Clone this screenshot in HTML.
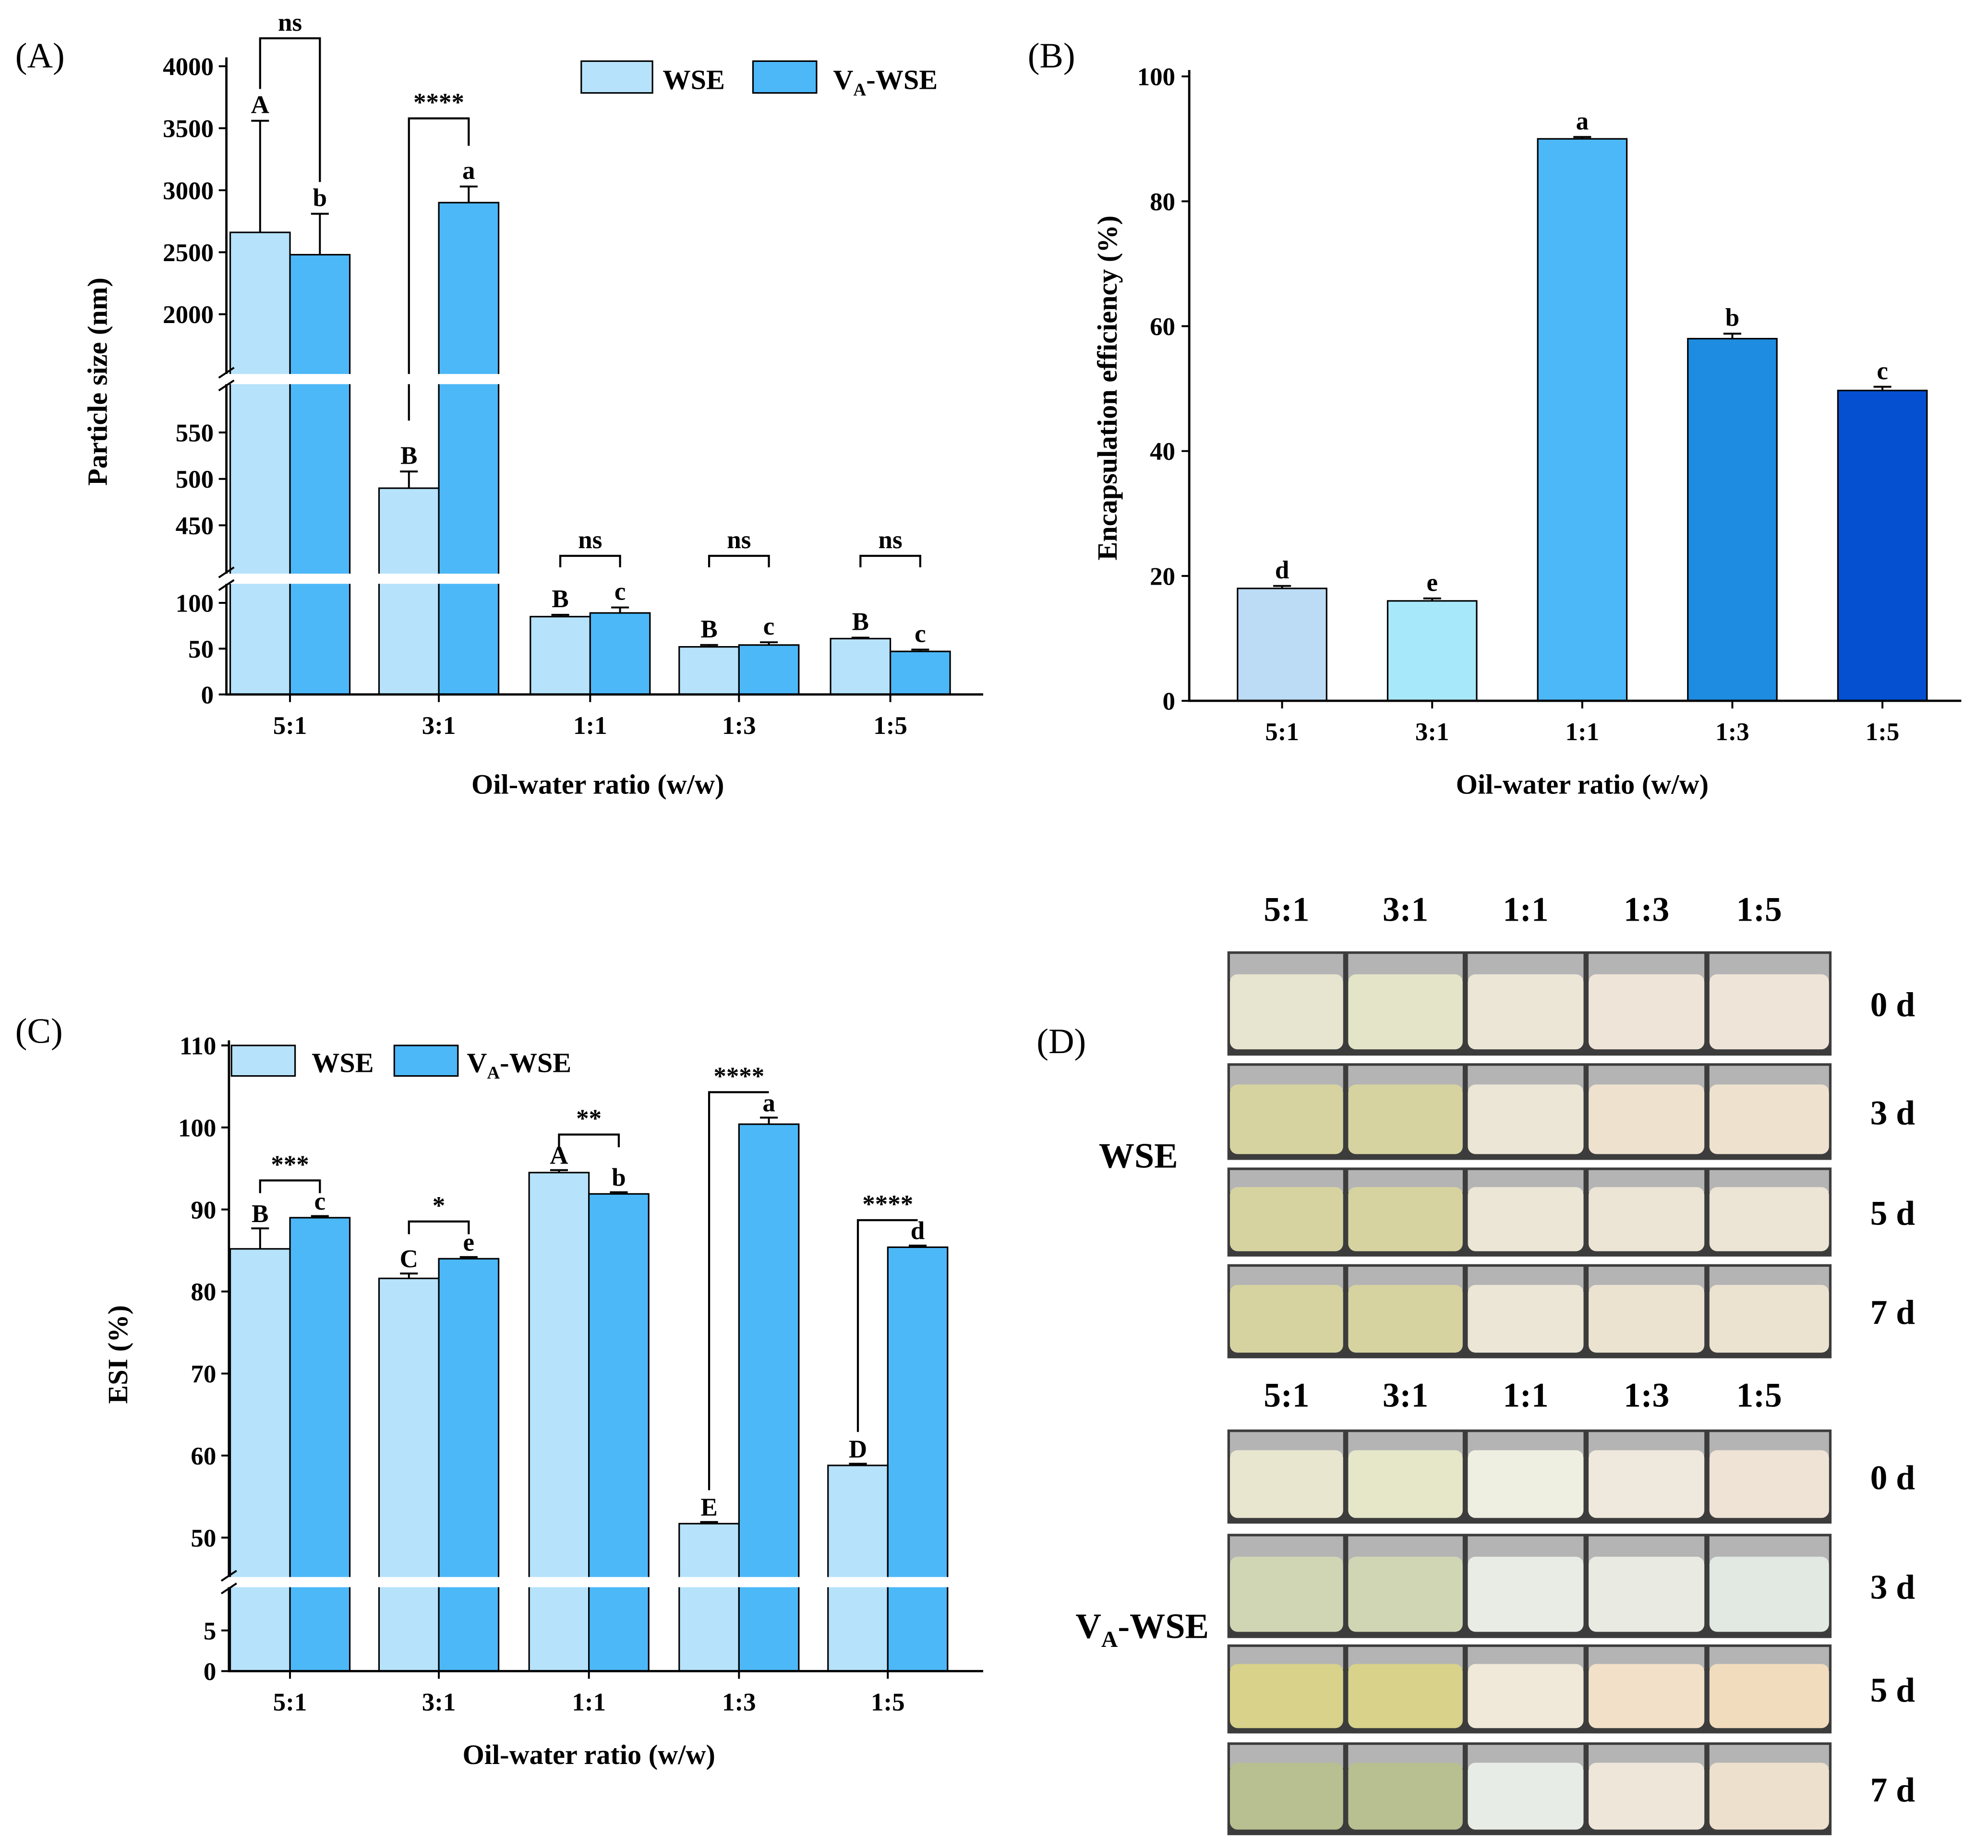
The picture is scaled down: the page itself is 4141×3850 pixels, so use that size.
<!DOCTYPE html>
<html><head><meta charset="utf-8">
<style>
html,body{margin:0;padding:0;background:#fff;}
svg{display:block;}
text{font-family:"Liberation Serif",serif;font-weight:bold;fill:#000;}
</style></head>
<body>
<svg id="fig" xmlns="http://www.w3.org/2000/svg" width="4141" height="3850" viewBox="0 0 1563 1453">
<g id="pA"></g>
<g id="pB"></g>
<g id="pC"></g>
<g id="pD"></g>
</svg>
<script>
const categories = ["5:1","3:1","1:1","1:3","1:5"];
const sizeWSE = [2660, 490, 85, 52, 61];
const sizeWSEErr = [900, 18, 2, 2, 1];
const sizeVA = [2480, 2900, 89, 54, 47];
const sizeVAErr = [330, 130, 6, 3, 2];
const sizeLettersWSE = ["A","B","B","B","B"];
const sizeLettersVA = ["b","a","c","c","c"];
const sizeSig = ["ns","****","ns","ns","ns"];
const sizeTicks = [0,50,100,450,500,550,2000,2500,3000,3500,4000];

const eeValues = [18, 16, 90, 58, 49.7];
const eeErr = [0.4, 0.4, 0.3, 0.8, 0.6];
const eeLetters = ["d","e","a","b","c"];
const eeTicks = [0,20,40,60,80,100];

const esiWSE = [85.2, 81.6, 94.5, 51.7, 58.8];
const esiWSEErr = [2.5, 0.6, 0.3, 0.2, 0.2];
const esiVA = [89, 84, 91.9, 100.4, 85.4];
const esiVAErr = [0.2, 0.2, 0.2, 0.8, 0.2];
const esiLettersWSE = ["B","C","A","E","D"];
const esiLettersVA = ["c","e","b","a","d"];
const esiSig = ["***","*","**","****","****"];
const esiTicks = [0,5,50,60,70,80,90,100,110];

const NS="http://www.w3.org/2000/svg";
function mk(parent, tag, attrs, txt){
  const e=document.createElementNS(NS,tag);
  for(const k in attrs) e.setAttribute(k, attrs[k]);
  if(txt!==undefined) e.textContent=txt;
  parent.appendChild(e); return e;
}
const C1="#b6e2fb", C2="#4cb8f8";
function errbar(g,x,yb,yt){
  mk(g,'path',{d:`M${x},${yb}V${yt}M${x-7},${yt}H${x+7}`,stroke:'#000','stroke-width':1.5,fill:'none'});
}

// ---------- Panel A ----------
const A=document.getElementById('pA');
function yA(v){ if(v<=126) return 546-v*0.72; if(v<=607) return 413-(v-450)*0.73; return 247-(v-2000)*0.0975; }
const cxA=[228,345,464,581,700], bw=47;
let t=mk(A,'text',{x:12,y:53,'font-size':28,style:'font-weight:normal'},'(A)');


categories.forEach((c,i)=>{
  const x=cxA[i];
  let r=mk(A,'rect',{x:x-bw,y:yA(sizeWSE[i]),width:bw,height:546-yA(sizeWSE[i]),fill:C1,stroke:'#000','stroke-width':1.2});
  
  
  r=mk(A,'rect',{x:x,y:yA(sizeVA[i]),width:bw,height:546-yA(sizeVA[i]),fill:C2,stroke:'#000','stroke-width':1.2});
  
  
  const xw=x-bw/2, xv=x+bw/2;
  const tw=yA(sizeWSE[i]+sizeWSEErr[i]), tv=yA(sizeVA[i]+sizeVAErr[i]);
  errbar(A,xw,yA(sizeWSE[i]),tw);
  errbar(A,xv,yA(sizeVA[i]),tv);
  mk(A,'text',{x:xw,y:tw-6,'font-size':20,'text-anchor':'middle'},sizeLettersWSE[i]);
  mk(A,'text',{x:xv,y:tv-6,'font-size':20,'text-anchor':'middle'},sizeLettersVA[i]);
  mk(A,'text',{x:x,y:577,'font-size':20,'text-anchor':'middle'},c);
});
function bracket(g,x1,x2,yt,y1,y2,label){
  mk(g,'path',{d:`M${x1},${y1}V${yt}H${x2}V${y2}`,stroke:'#000','stroke-width':1.6,fill:'none'});
  const s=mk(g,'text',{x:(x1+x2)/2,y:yt-6,'font-size':20,'text-anchor':'middle'},label);
  
  
}
categories.forEach((c,i)=>{
  const x1=cxA[i]-bw/2, x2=cxA[i]+bw/2;
  if(i===0) bracket(A,x1,x2,30,yA(sizeWSE[i]+sizeWSEErr[i])-25,yA(sizeVA[i]+sizeVAErr[i])-25,sizeSig[i]);
  else if(i===1) bracket(A,x1,x2,93,yA(sizeWSE[i]+sizeWSEErr[i])-40,yA(sizeVA[i]+sizeVAErr[i])-32,sizeSig[i]);
  else bracket(A,x1,x2,437,446,446,sizeSig[i]);
});
mk(A,'path',{d:'M178,45V546H773',stroke:'#000','stroke-width':1.8,fill:'none'});
sizeTicks.forEach(v=>{
  const y=yA(v);
  mk(A,'line',{x1:172,x2:178,y1:y,y2:y,stroke:'#000','stroke-width':1.5});
  const tt=mk(A,'text',{x:168,y:y+7,'font-size':20,'text-anchor':'end'},v);
  
  
});
categories.forEach((c,i)=>mk(A,'line',{x1:cxA[i],x2:cxA[i],y1:546,y2:552,stroke:'#000','stroke-width':1.5}));
[298,455].forEach(y=>{
  mk(A,'rect',{x:165,y:y-4,width:232,height:8,fill:'#fff'});
  mk(A,'path',{d:`M172,${y-1}L184,${y-9}M172,${y+9}L184,${y+1}`,stroke:'#000','stroke-width':1.5});
});
t=mk(A,'text',{x:0,y:0,'font-size':22,'text-anchor':'middle',transform:'translate(84,300) rotate(-90)'},'Particle size (nm)');


t=mk(A,'text',{x:470,y:624,'font-size':22,'text-anchor':'middle'},'Oil-water ratio (w/w)');


let lg=mk(A,'g',{});


mk(lg,'rect',{x:457,y:48,width:56,height:25,fill:C1,stroke:'#000','stroke-width':1.2});
mk(lg,'text',{x:521,y:70,'font-size':22},'WSE');
mk(lg,'rect',{x:592,y:48,width:50,height:25,fill:C2,stroke:'#000','stroke-width':1.2});
t=mk(lg,'text',{x:655,y:70,'font-size':22});
t.innerHTML='V<tspan font-size="14" dy="5">A</tspan><tspan dy="-5">-WSE</tspan>';

// ---------- Panel B ----------
const B=document.getElementById('pB');
function yB(v){return 551-v*4.91;}
const cxB=[1008,1126,1244,1362,1480], colsB=["#bcdcf6","#a8e8fb","#4db8f8","#1e8ce0","#0450d0"];
t=mk(B,'text',{x:808,y:53,'font-size':28,style:'font-weight:normal'},'(B)');


categories.forEach((c,i)=>{
  const x=cxB[i];
  const r=mk(B,'rect',{x:x-35,y:yB(eeValues[i]),width:70,height:551-yB(eeValues[i]),fill:colsB[i],stroke:'#000','stroke-width':1.2});
  
  
  const te=yB(eeValues[i]+eeErr[i]);
  errbar(B,x,yB(eeValues[i]),te);
  mk(B,'text',{x:x,y:te-6,'font-size':20,'text-anchor':'middle'},eeLetters[i]);
  mk(B,'line',{x1:x,x2:x,y1:551,y2:557,stroke:'#000','stroke-width':1.5});
  mk(B,'text',{x:x,y:582,'font-size':20,'text-anchor':'middle'},c);
});
mk(B,'path',{d:'M935,55V551H1542',stroke:'#000','stroke-width':1.8,fill:'none'});
eeTicks.forEach(v=>{
  const y=yB(v);
  mk(B,'line',{x1:929,x2:935,y1:y,y2:y,stroke:'#000','stroke-width':1.5});
  const tt=mk(B,'text',{x:924,y:y+7,'font-size':20,'text-anchor':'end'},v);
  
  
});
t=mk(B,'text',{x:0,y:0,'font-size':22,'text-anchor':'middle',transform:'translate(878,305) rotate(-90)'},'Encapsulation efficiency (%)');


t=mk(B,'text',{x:1244,y:624,'font-size':22,'text-anchor':'middle'},'Oil-water ratio (w/w)');



// ---------- Panel C ----------
const Cg=document.getElementById('pC');
function yC(v){ if(v<=10) return 1314-v*6.4; return 1209-(v-50)*6.45; }
const cxC=[228,345,463,581,698];
t=mk(Cg,'text',{x:12,y:820,'font-size':28,style:'font-weight:normal'},'(C)');


categories.forEach((c,i)=>{
  const x=cxC[i];
  let r=mk(Cg,'rect',{x:x-bw,y:yC(esiWSE[i]),width:bw,height:1314-yC(esiWSE[i]),fill:C1,stroke:'#000','stroke-width':1.2});
  
  
  r=mk(Cg,'rect',{x:x,y:yC(esiVA[i]),width:bw,height:1314-yC(esiVA[i]),fill:C2,stroke:'#000','stroke-width':1.2});
  
  
  const xw=x-bw/2, xv=x+bw/2;
  const tw=yC(esiWSE[i]+esiWSEErr[i]), tv=yC(esiVA[i]+esiVAErr[i]);
  errbar(Cg,xw,yC(esiWSE[i]),tw);
  errbar(Cg,xv,yC(esiVA[i]),tv);
  mk(Cg,'text',{x:xw,y:tw-5,'font-size':20,'text-anchor':'middle'},esiLettersWSE[i]);
  mk(Cg,'text',{x:xv,y:tv-5,'font-size':20,'text-anchor':'middle'},esiLettersVA[i]);
  mk(Cg,'line',{x1:x,x2:x,y1:1314,y2:1320,stroke:'#000','stroke-width':1.5});
  mk(Cg,'text',{x:x,y:1345,'font-size':20,'text-anchor':'middle'},c);
  const top=Math.min(tw,tv)-28;
  const big=Math.abs(tw-tv)>40;
  const yt=big?Math.min(tw,tv)-20:top;
  bracket(Cg,xw,xv,yt,big?tw-25:yt+10,big?tv-20:yt+10,esiSig[i]);
});
mk(Cg,'path',{d:'M180,818V1314H773',stroke:'#000','stroke-width':1.8,fill:'none'});
esiTicks.forEach(v=>{
  const y=yC(v);
  mk(Cg,'line',{x1:174,x2:180,y1:y,y2:y,stroke:'#000','stroke-width':1.5});
  const tt=mk(Cg,'text',{x:170,y:y+7,'font-size':20,'text-anchor':'end'},v);
  
  
});
mk(Cg,'rect',{x:167,y:1240,width:590,height:8,fill:'#fff'});
mk(Cg,'path',{d:'M174,1243L186,1235M174,1253L186,1245',stroke:'#000','stroke-width':1.5});
t=mk(Cg,'text',{x:0,y:0,'font-size':22,'text-anchor':'middle',transform:'translate(100,1065) rotate(-90)'},'ESI (%)');


t=mk(Cg,'text',{x:463,y:1387,'font-size':22,'text-anchor':'middle'},'Oil-water ratio (w/w)');


lg=mk(Cg,'g',{});


mk(lg,'rect',{x:182,y:822,width:50,height:24,fill:C1,stroke:'#000','stroke-width':1.2});
mk(lg,'text',{x:245,y:843,'font-size':22},'WSE');
mk(lg,'rect',{x:310,y:822,width:50,height:24,fill:C2,stroke:'#000','stroke-width':1.2});
t=mk(lg,'text',{x:367,y:843,'font-size':22});
t.innerHTML='V<tspan font-size="14" dy="5">A</tspan><tspan dy="-5">-WSE</tspan>';

// ---------- Panel D ----------
const D=document.getElementById('pD');
t=mk(D,'text',{x:815,y:828,'font-size':28,style:'font-weight:normal'},'(D)');


const dayLabels=["0 d","3 d","5 d","7 d"];
const rowsTop=[[748,830],[836,912],[918,988],[994,1068]];
const rowsBot=[[1124,1198],[1206,1288],[1293,1363],[1370,1443]];
const colX=[965,1058,1152,1247,1342,1440];
const cream="#ece6d6", oil="#d6d3a0";
const topCols=[[ "#e7e4cf","#e4e4c8",cream,"#efe4d8","#efe4d8"],[oil,oil,cream,"#eee2cf","#eee2cf"],[oil,oil,cream,"#ece4d4","#ece4d4"],[oil,oil,cream,"#ece2d0","#ece2d0"]];
const botCols=[["#e9e6cf","#e6e6c9","#eeefe0","#efe8dc","#efe3d6"],["#d0d6b4","#d0d6b4","#e8ece4","#e9ebe3","#e2e8e2"],["#d8d28a","#d8d28a","#f0e8d8","#f2e0c8","#f2dcbe"],["#b8bf90","#b8bf90","#e8ece6","#efe6da","#ede0cc"]];
function photoBlock(rows, cols, name, colLabY, title, titleY){
  rows.forEach((r,ri)=>{
    const g=mk(D,'g',{});
    
    
    mk(g,'rect',{x:colX[0],y:r[0],width:colX[5]-colX[0],height:r[1]-r[0],fill:'#3c3c3c'});
    for(let k=0;k<5;k++){
      const x0=colX[k]+2, w=colX[k+1]-colX[k]-4, h=r[1]-r[0];
      mk(g,'rect',{x:x0,y:r[0]+2,width:w,height:h*0.25,fill:'#b4b4b4'});
      mk(g,'rect',{x:x0,y:r[0]+h*0.22,width:w,height:h*0.72,rx:6,fill:cols[ri][k]});
    }
    mk(D,'text',{x:1488,y:(r[0]+r[1])/2+10,'font-size':27,'text-anchor':'middle'},dayLabels[ri]);
  });
  categories.forEach((c,i)=>mk(D,'text',{x:(colX[i]+colX[i+1])/2+(i===4?-8:0),y:colLabY,'font-size':27,'text-anchor':'middle'},c));
  const tt=mk(D,'text',{x:title.x,y:titleY,'font-size':28,'text-anchor':'middle'});
  tt.innerHTML=title.html;
}
photoBlock(rowsTop, topCols,'wse',724,{x:895,html:'WSE'},918);
photoBlock(rowsBot, botCols,'va-wse',1106,{x:898,html:'V<tspan font-size="18" dy="7">A</tspan><tspan dy="-7">-WSE</tspan>'},1288);
</script>
</body></html>
